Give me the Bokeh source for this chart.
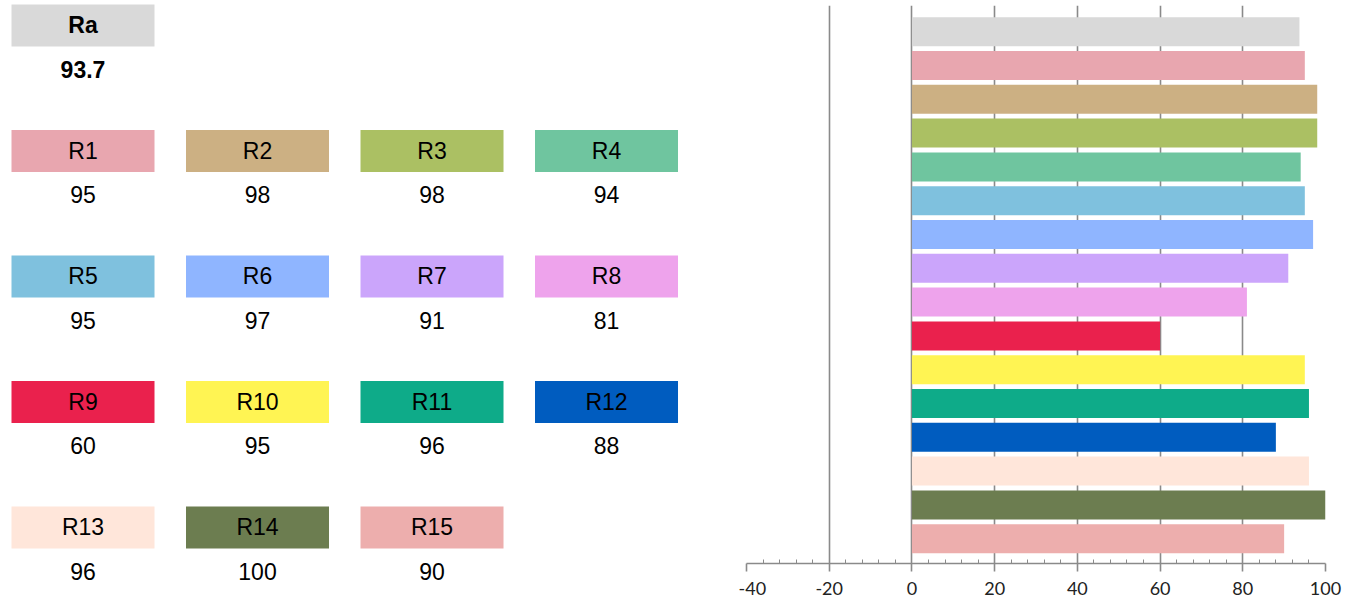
from bokeh.plotting import figure
from bokeh.models import Range1d, FixedTicker, ColumnDataSource
from bokeh.layouts import row
from bokeh.core.properties import value
from bokeh.embed import file_html
from bokeh.resources import INLINE

# ---- data ----
names = ["Ra", "R1", "R2", "R3", "R4", "R5", "R6", "R7", "R8",
         "R9", "R10", "R11", "R12", "R13", "R14", "R15"]
scores = [93.7, 95, 98, 98, 94, 95, 97, 91, 81, 60, 95, 96, 88, 96, 100, 90]
colors = ["#D9D9D9", "#E8A6AF", "#CCB083", "#ABC063", "#6FC59F", "#7FC1DE",
          "#8FB5FF", "#CBA5FB", "#EEA3EC", "#EA214D", "#FFF453", "#0EAB89",
          "#005CBF", "#FFE6DA", "#6C7D50", "#EDAEAD"]
x_ticks = [-40, -20, 0, 20, 40, 60, 80, 100]

# ---- left: tile panel ----
cols = [0] + [i % 4 for i in range(len(names) - 1)]
rows = [0] + [1 + i // 4 for i in range(len(names) - 1)]
labels = [f"{v:g}" for v in scores]
styles = ["bold"] + ["normal"] * (len(names) - 1)
src = ColumnDataSource(dict(x=cols, y=rows, yv=[r + 0.35 for r in rows],
                            name=names, label=labels, color=colors, style=styles))

left = figure(width=738, height=600, output_backend="svg", toolbar_location=None,
              x_range=Range1d(-0.4728, 3.7564), y_range=Range1d(4.5817, -0.1992),
              min_border=0)
left.frame_align = False
left.axis.visible = False
left.grid.visible = False
left.outline_line_color = None
left.rect(x="x", y="y", width=0.8195, height=0.3347, fill_color="color",
          line_color=None, source=src)
left.text(x="x", y="y", text="name", source=src, text_align="center",
          text_baseline="middle", text_font=value("Liberation Sans"),
          text_font_size="23px", text_font_style="style", text_color="#000000")
left.text(x="x", y="yv", text="label", source=src, text_align="center",
          text_baseline="middle", text_font=value("Liberation Sans"),
          text_font_size="23px", text_font_style="style", text_color="#000000")

# ---- right: bar chart ----
bsrc = ColumnDataSource(dict(y=list(range(len(names))), v=scores, color=colors))
minor = [t for t in range(-40, 101, 4) if t % 20 != 0]

right = figure(width=620, height=600, output_backend="svg", toolbar_location=None,
               x_range=Range1d(-40, 100), y_range=Range1d(15.734, -0.775),
               min_border_left=8, min_border_right=33, min_border_top=5,
               min_border_bottom=37)
right.frame_align = False
right.outline_line_color = None
right.yaxis.visible = False
right.ygrid.visible = False
tk = FixedTicker(ticks=x_ticks, minor_ticks=minor)
right.xaxis.ticker = tk
right.xgrid.ticker = tk
right.xgrid.grid_line_color = "#8A8A8A"
right.xgrid.grid_line_width = 1.6
ax = right.xaxis[0]
ax.axis_line_color = "#8A8A8A"
ax.axis_line_width = 1.6
ax.major_tick_line_color = "#8A8A8A"
ax.major_tick_line_width = 1.6
ax.major_tick_in = 0
ax.major_tick_out = 8
ax.minor_tick_line_color = "#8A8A8A"
ax.minor_tick_in = 4
ax.minor_tick_out = 0
ax.major_label_standoff = 10
ax.major_label_overrides = {t: str(t) for t in x_ticks}
ax.major_label_text_font = "Lato"
ax.major_label_text_font_size = "18px"
ax.major_label_text_color = "#222222"

right.hbar(y="y", left=0, right="v", height=0.858, fill_color="color",
           line_color=None, source=bsrc)

layout = row(left, right)
open("out.html", "w").write(file_html(layout, INLINE))
